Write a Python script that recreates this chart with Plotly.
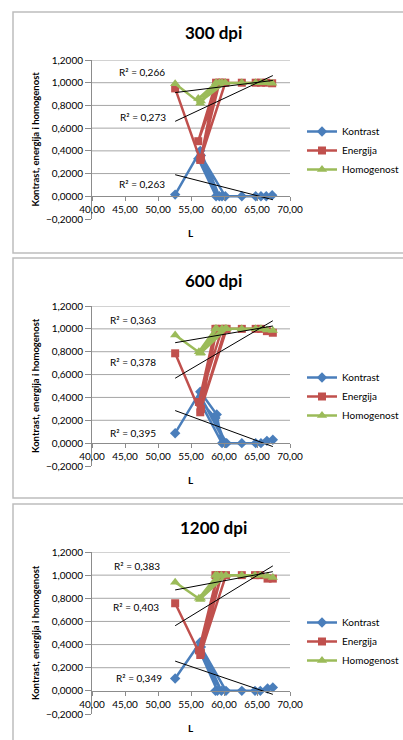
import plotly.graph_objects as go

# ---- data: L value and the three texture features for each scan resolution ----
titles = ["300 dpi", "600 dpi", "1200 dpi"]
series_names = ["Kontrast", "Energija", "Homogenost"]

L_300 = [52.6, 56.4, 59.3, 56.1, 58.8, 56.5, 60.2, 59.7, 62.7, 64.8, 65.6, 66.4, 67.3]
kontrast_300 = [0.015, 0.40, 0.0, 0.33, 0.0, 0.36, 0.0, 0.0, 0.0, 0.0, 0.0, 0.0, 0.01]
energija_300 = [0.95, 0.32, 1.0, 0.485, 1.0, 0.34, 1.0, 1.0, 1.0, 1.0, 1.0, 1.0, 0.995]
homogenost_300 = [0.99, 0.82, 1.0, 0.86, 1.0, 0.84, 1.0, 1.0, 1.0, 1.0, 1.0, 1.0, 0.995]

L_600 = [52.6, 56.4, 58.9, 59.7, 56.2, 58.7, 60.2, 56.5, 60.4, 62.7, 64.8, 65.6, 66.5, 67.4]
kontrast_600 = [0.087, 0.45, 0.25, 0.0, 0.38, 0.22, 0.0, 0.40, 0.0, 0.0, 0.0, 0.0, 0.02, 0.03]
energija_600 = [0.786, 0.27, 1.0, 1.0, 0.36, 1.0, 1.0, 0.30, 1.0, 1.0, 1.0, 1.0, 0.98, 0.966]
homogenost_600 = [0.946, 0.786, 1.0, 1.0, 0.80, 1.0, 1.0, 0.79, 1.0, 1.0, 1.0, 1.0, 0.99, 0.985]

L_1200 = [52.6, 56.4, 59.0, 56.2, 59.6, 56.5, 60.3, 58.7, 62.7, 64.7, 65.5, 66.6, 67.4]
kontrast_1200 = [0.107, 0.42, 0.0, 0.36, 0.0, 0.38, 0.0, 0.0, 0.0, 0.0, 0.0, 0.02, 0.03]
energija_1200 = [0.757, 0.31, 1.0, 0.35, 1.0, 0.33, 1.0, 1.0, 1.0, 1.0, 1.0, 0.97, 0.97]
homogenost_1200 = [0.939, 0.79, 1.0, 0.80, 1.0, 0.80, 1.0, 1.0, 1.0, 1.0, 1.0, 0.99, 0.98]

# linear trend lines: value at the first and last L of each data set
trend_L = [52.6, 67.4]
trend_300 = {"Kontrast": [0.19, -0.03], "Energija": [0.66, 1.063], "Homogenost": [0.913, 1.02]}
trend_600 = {"Kontrast": [0.285, -0.03], "Energija": [0.568, 1.071], "Homogenost": [0.879, 1.025]}
trend_1200 = {"Kontrast": [0.257, -0.03], "Energija": [0.563, 1.08], "Homogenost": [0.872, 1.03]}

# R² labels: text and anchor point (L, value)
r2_300 = [("R² = 0,266", 47.6, 1.09), ("R² = 0,273", 47.7, 0.70), ("R² = 0,263", 47.6, 0.106)]
r2_600 = [("R² = 0,363", 46.2, 1.077), ("R² = 0,378", 46.2, 0.71), ("R² = 0,395", 46.2, 0.09)]
r2_1200 = [("R² = 0,383", 46.8, 1.08), ("R² = 0,403", 46.7, 0.725), ("R² = 0,349", 47.1, 0.11)]

# value axis ticks; horizontal grid lines sit on the positive ticks only
y_ticks = [-0.2, 0.0, 0.2, 0.4, 0.6, 0.8, 1.0, 1.2]
y_grid = [0.2, 0.4, 0.6, 0.8, 1.0, 1.2]

panels = [
    (L_300, [kontrast_300, energija_300, homogenost_300], trend_300, r2_300),
    (L_600, [kontrast_600, energija_600, homogenost_600], trend_600, r2_600),
    (L_1200, [kontrast_1200, energija_1200, homogenost_1200], trend_1200, r2_1200),
]

# ---- styling ----
W, H = 403, 740
FONT = "Lato"
colors = {"Kontrast": "#4A7EBB", "Energija": "#C0504D", "Homogenost": "#9BBB59"}
symbols = {"Kontrast": "diamond", "Energija": "square", "Homogenost": "triangle-up"}
msize = {"Kontrast": 8, "Energija": 8, "Homogenost": 9}
AXIS_GREY = "#8c8c8c"

def py(px):
    return 1 - px / H

# pixel layout of each panel
plot_px = [(60, 219), (306, 466), (552, 714)]     # plot top (1.2) / bottom (-0.2)
frame_px = [(12, 253), (258, 498), (504, 745)]
title_px = [33, 280, 527]
xtitle_px = [233, 480, 728]
legend_px = [117, 363, 608]
x_dom = [92 / W, 290 / W]

fig = go.Figure()
layout = dict(
    width=W, height=H,
    margin=dict(l=0, r=0, t=0, b=0, autoexpand=False),
    paper_bgcolor="white", plot_bgcolor="white",
    separators=", ", font=dict(family=FONT, color="#000000"),
    showlegend=True,
)
annotations = []
shapes = []

for i, (Lv, vals, trend, r2) in enumerate(panels):
    n = "" if i == 0 else str(i + 1)
    xa, ya = "x" + n, "y" + n
    leg = "legend" if i == 0 else "legend" + str(i + 1)
    top, bot = plot_px[i]
    d0, d1 = py(bot), py(top)
    zero_pos = d0 + (0.2 / 1.4) * (d1 - d0)

    for name, v in zip(series_names, vals):
        fig.add_trace(go.Scatter(
            x=Lv, y=v, mode="lines+markers", name=name,
            line=dict(color=colors[name], width=2.5),
            marker=dict(symbol=symbols[name], size=msize[name], color=colors[name]),
            xaxis=xa, yaxis=ya, legend=leg,
        ))
    for name in series_names:
        fig.add_trace(go.Scatter(
            x=trend_L, y=trend[name], mode="lines",
            line=dict(color="#000000", width=1), showlegend=False,
            hoverinfo="skip", xaxis=xa, yaxis=ya,
        ))

    layout["xaxis" + n] = dict(
        domain=x_dom, anchor="free", position=zero_pos, range=[40, 70],
        dtick=5, tick0=40, tickformat=".2f", showgrid=False, zeroline=False,
        showline=True, linecolor=AXIS_GREY, linewidth=1,
        ticks="outside", ticklen=4, tickcolor=AXIS_GREY,
        tickfont=dict(size=10, family=FONT),
    )
    layout["yaxis" + n] = dict(
        domain=[d0, d1], anchor=xa, range=[-0.2, 1.2],
        tickmode="array", tickvals=y_ticks, tickformat=".4f",
        showgrid=False, zeroline=False, showline=True,
        linecolor=AXIS_GREY, linewidth=1,
        ticks="outside", ticklen=6, tickcolor=AXIS_GREY,
        tickfont=dict(size=10, family=FONT),
    )
    for g in y_grid:
        shapes.append(dict(
            type="line", xref=xa + " domain", yref=ya, x0=0, x1=1, y0=g, y1=g,
            line=dict(color="#a6a6a6", width=1), layer="below",
        ))
    layout[leg] = dict(
        x=302 / W, y=py(legend_px[i]), xanchor="left", yanchor="top",
        bgcolor="rgba(0,0,0,0)", font=dict(size=10, family=FONT),
        tracegroupgap=0, itemwidth=30,
    )

    annotations.append(dict(
        text="<b>" + titles[i] + "</b>", x=0.53, y=py(title_px[i]),
        xanchor="center", yanchor="middle",
        xref="paper", yref="paper", showarrow=False, font=dict(size=17, family=FONT),
    ))
    annotations.append(dict(
        text="<b>L</b>", x=(x_dom[0] + x_dom[1]) / 2, y=py(xtitle_px[i]),
        xanchor="center", yanchor="middle",
        xref="paper", yref="paper", showarrow=False, font=dict(size=10, family=FONT),
    ))
    annotations.append(dict(
        text="<b>Kontrast, energija i homogenost</b>", x=35 / W,
        y=(d0 + d1) / 2, xanchor="center", yanchor="middle",
        xref="paper", yref="paper", showarrow=False,
        textangle=-90, font=dict(size=9.5, family=FONT),
    ))
    for txt, lx, ly in r2:
        annotations.append(dict(
            text=txt, x=lx, y=ly, xref=xa, yref=ya, showarrow=False,
            xanchor="center", yanchor="middle",
            font=dict(size=10, family=FONT),
        ))

    ft, fb = frame_px[i]
    shapes.append(dict(
        type="rect", xref="paper", yref="paper",
        x0=13 / W, x1=1.02, y0=py(fb), y1=py(ft),
        line=dict(color="#bdbdbd", width=1.5), layer="below",
    ))

layout["annotations"] = annotations
layout["shapes"] = shapes
fig.update_layout(**layout)

fig.write_html("out.html")
